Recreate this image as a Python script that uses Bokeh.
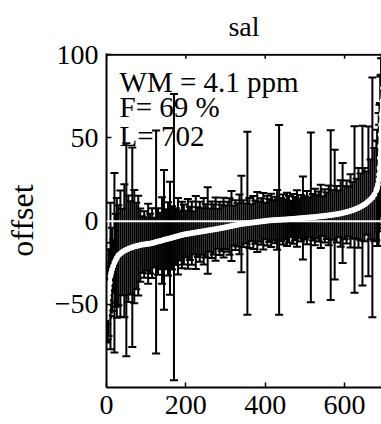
from bokeh.plotting import figure
from bokeh.models import (Range1d, Whisker, ColumnDataSource, Span,
                          Label, FixedTicker, TeeHead)
from bokeh.embed import file_html
from bokeh.resources import INLINE

# ---- data (sorted offsets with error bars) ----
ranks = [0, 1, 2, 3, 4, 5, 6, 8, 10, 12, 14, 17, 20, 23, 26,
         30, 35, 40, 45, 50, 55, 60, 65, 70, 75, 80, 85, 90, 95, 100,
         105, 110, 115, 120, 125, 130, 135, 140, 145, 150, 155, 160, 165, 170,
         175, 180, 185, 190, 195, 200, 205, 210, 215, 220, 225, 230, 235, 240,
         245, 250, 255, 260, 265, 270, 275, 280, 285, 290, 295, 300, 305, 310,
         315, 320, 325, 330, 335, 340, 345, 350, 355, 360, 365, 370, 375, 380,
         385, 390, 395, 400, 405, 410, 415, 420, 425, 430, 435, 440, 445, 450,
         455, 460, 465, 470, 475, 480, 485, 490, 495, 500, 505, 510, 515, 520,
         525, 530, 535, 540, 545, 550, 555, 560, 565, 570, 575, 580, 585, 590,
         595, 600, 605, 610, 615, 620, 625, 630, 635, 640, 645, 650, 655, 660,
         665, 670, 675, 680, 682, 684, 686, 687, 688, 689, 690, 691, 692, 693,
         695, 697, 699, 701]
offsets = [-58, -55, -52, -49, -46, -43, -40, -37, -33, -31, -29, -27, -25, -23.5, -22,
           -20.5, -19.5, -18.5, -17.8, -17.2, -16.6, -16.1, -15.7, -15.3, -15.0, -14.7, -14.4, -14.1, -14.0, -13.8,
           -13.6, -13.5, -13.2, -12.9, -12.5, -12.2, -11.9, -11.6, -11.2, -10.9, -10.6, -10.3, -10.0, -9.6,
           -9.3, -9.0, -8.6, -8.3, -8.0, -7.8, -7.6, -7.4, -7.2, -7.0, -6.8, -6.6, -6.4, -6.2,
           -6.0, -5.8, -5.6, -5.4, -5.2, -5.0, -4.8, -4.6, -4.4, -4.1, -3.9, -3.7, -3.4, -3.2,
           -2.9, -2.7, -2.4, -2.2, -1.9, -1.7, -1.5, -1.4, -1.2, -1.1, -0.9, -0.8, -0.6, -0.5,
           -0.3, -0.2, 0.0, 0.1, 0.3, 0.4, 0.5, 0.6, 0.7, 0.8, 0.8, 0.9, 1.0, 1.0,
           1.1, 1.2, 1.3, 1.4, 1.5, 1.6, 1.7, 1.8, 1.9, 2.0, 2.1, 2.2, 2.3, 2.4,
           2.5, 2.6, 2.8, 2.9, 3.0, 3.2, 3.3, 3.5, 3.6, 3.8, 4.0, 4.2, 4.4, 4.6,
           4.9, 5.2, 5.5, 5.8, 6.2, 6.6, 7.0, 7.5, 8.0, 8.6, 9.3, 10.0, 10.9, 11.9,
           13.0, 14.3, 16.0, 18.5, 20, 22, 25, 28, 32, 38, 45, 52, 58, 64,
           72, 80, 88, 97]
errors = [14, 18, 10, 22, 12, 26, 15, 20, 44, 18, 25, 16, 54, 28, 36,
          30, 38, 26, 40, 64, 32, 28, 60, 34, 26, 30, 22, 17, 20, 16,
          24, 18, 21, 15, 67, 20, 17, 26, 42, 18, 22, 34, 19, 86,
          17, 23, 15, 20, 18, 14, 21, 16, 19, 13, 22, 15, 18, 14,
          20, 16, 26, 13, 17, 15, 19, 12, 16, 14, 18, 13, 15, 17,
          21, 12, 15, 13, 18, 29, 14, 12, 55, 15, 11, 16, 13, 18,
          12, 14, 17, 11, 15, 13, 16, 12, 14, 18, 57, 13, 15, 12,
          16, 14, 11, 15, 13, 17, 12, 14, 25, 13, 16, 12, 51, 14,
          17, 13, 15, 19, 12, 16, 14, 18, 51, 15, 39, 17, 14, 20,
          30, 16, 19, 15, 22, 17, 50, 18, 24, 20, 48, 22, 19, 45,
          24, 72, 28, 30, 35, 26, 40, 30, 38, 33, 42, 36, 40, 38,
          45, 40, 50, 45]
x_ticks = [0, 200, 400, 600]
y_ticks = [-50, 0, 50, 100]
notes = ["WM = 4.1 ppm", "F= 69 %", "L= 702"]
note_y = [83.5, 68.5, 51.5]
title_text = "sal"
ylabel = "offset"

Y_MIN, Y_MAX = -100, 100

upper = [o + e for o, e in zip(offsets, errors)]
lower = [o - e for o, e in zip(offsets, errors)]
src = ColumnDataSource(dict(x=ranks, y=offsets, up=upper, lo=lower))

FONT = "Liberation Serif"

p = figure(width=381, height=424, x_range=Range1d(0, 693), y_range=Range1d(Y_MIN, Y_MAX + 0.8),
           output_backend="svg", toolbar_location=None, title=title_text,
           min_border_left=106, min_border_right=0, min_border_top=53, min_border_bottom=37)
p.outline_line_color = None
p.grid.visible = False
p.background_fill_color = "white"
p.border_fill_color = "white"

p.title.text_font = FONT
p.title.text_font_size = "28px"
p.title.text_font_style = "normal"
p.title.text_color = "black"
p.title.align = "center"
p.title.offset = 2
p.title.vertical_align = "top"
p.title.standoff = 19

for ax in (p.xaxis[0], p.yaxis[0]):
    ax.major_label_text_font = FONT
    ax.major_label_text_font_size = "28px"
    ax.major_tick_in = 5
    ax.major_tick_out = 0
    ax.minor_tick_in = 0
    ax.minor_tick_out = 0
    ax.axis_line_width = 2
    ax.axis_line_color = "black"
    ax.major_tick_line_width = 1.5
    ax.major_label_text_color = "black"

p.xaxis.ticker = FixedTicker(ticks=x_ticks)
p.yaxis.ticker = FixedTicker(ticks=y_ticks)
p.yaxis.major_label_overrides = {-50: "\u221250"}
p.xaxis.major_label_standoff = 8
p.yaxis.major_label_standoff = 8
p.yaxis.axis_label = ylabel
p.yaxis.axis_label_text_font = FONT
p.yaxis.axis_label_text_font_size = "32px"
p.yaxis.axis_label_text_font_style = "normal"
p.yaxis.axis_label_text_color = "black"
p.yaxis.axis_label_standoff = 12

# top border of the box with inward ticks
p.add_layout(Span(location=Y_MAX, dimension="width", line_color="black", line_width=2))
p.segment(x0=x_ticks, y0=[Y_MAX] * len(x_ticks), x1=x_ticks, y1=[Y_MAX - 2.4] * len(x_ticks),
          line_color="black", line_width=1.5)

wh = Whisker(source=src, base="x", upper="up", lower="lo", line_color="black", line_width=2,
             upper_head=TeeHead(size=8, line_width=2, line_color="black"),
             lower_head=TeeHead(size=8, line_width=2, line_color="black"))
wh.level = "underlay"
p.add_layout(wh)

p.add_layout(Span(location=0, dimension="width", line_color="white", line_width=2))

p.line("x", "y", source=src, line_color="white", line_width=4)
p.scatter("x", "y", source=src, size=5, fill_color="white", line_color="white")

for t, yy in zip(notes, note_y):
    p.add_layout(Label(x=33, y=yy, text=t, text_font=FONT, text_font_size="29px",
                       text_baseline="alphabetic", text_color="black"))

open("out.html", "w").write(file_html(p, INLINE))
